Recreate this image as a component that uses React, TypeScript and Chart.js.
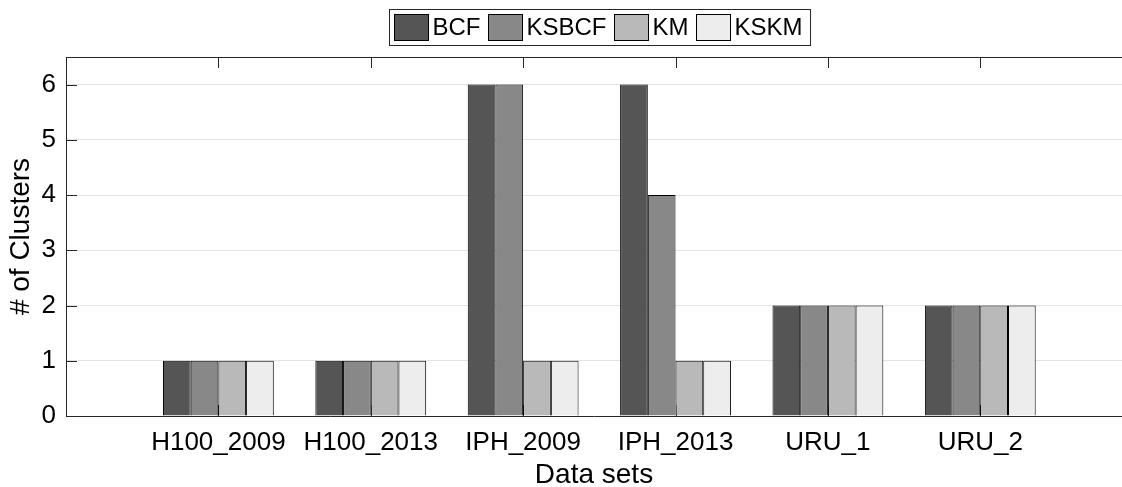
import React, { useEffect, useRef } from 'react';
import { Chart, registerables } from 'chart.js';

Chart.register(...registerables);

const categories = ['H100_2009', 'H100_2013', 'IPH_2009', 'IPH_2013', 'URU_1', 'URU_2'];
const seriesNames = ['BCF', 'KSBCF', 'KM', 'KSKM'];
const bcfValues = [1, 1, 6, 6, 2, 2];
const ksbcfValues = [1, 1, 6, 4, 2, 2];
const kmValues = [1, 1, 1, 1, 2, 2];
const kskmValues = [1, 1, 1, 1, 2, 2];
const seriesColors = ['#555555', '#888888', '#b9b9b9', '#ededed'];
const yTickValues = [0, 1, 2, 3, 4, 5, 6];
const yMax = 6.5;
const xMin = 0;
const xMax = 6.93; // visible part of the 0..7 x-range (figure is cropped at the right)
const xTitle = 'Data sets';
const yTitle = '# of Clusters';

const FONT = "'Liberation Sans', Arial, Helvetica, sans-serif";
const AXIS = '#262626';

const matlabPlugin = {
  id: 'matlabAxes',
  beforeDatasetsDraw(chart: any) {
    const { ctx, chartArea, scales } = chart;
    const x = scales.x;
    ctx.save();
    ctx.strokeStyle = AXIS;
    ctx.lineWidth = 1;
    for (let i = 1; i <= categories.length; i++) {
      const px = Math.round(x.getPixelForValue(i)) + 0.5;
      ctx.beginPath();
      ctx.moveTo(px, chartArea.bottom);
      ctx.lineTo(px, chartArea.bottom - 11);
      ctx.stroke();
    }
    ctx.restore();
  },
  afterDraw(chart: any) {
    const { ctx, chartArea, scales } = chart;
    const x = scales.x;
    const y = scales.y;
    ctx.save();
    ctx.strokeStyle = AXIS;
    ctx.lineWidth = 1;
    const top = Math.round(chartArea.top) + 0.5;
    ctx.beginPath();
    ctx.moveTo(chartArea.left, top);
    ctx.lineTo(chartArea.right, top);
    ctx.stroke();
    for (const v of yTickValues) {
      const py = Math.round(y.getPixelForValue(v)) + 0.5;
      ctx.beginPath();
      ctx.moveTo(chartArea.left, py);
      ctx.lineTo(chartArea.left + 11, py);
      ctx.stroke();
    }
    for (let i = 1; i <= categories.length; i++) {
      const px = Math.round(x.getPixelForValue(i)) + 0.5;
      ctx.beginPath();
      ctx.moveTo(px, chartArea.top);
      ctx.lineTo(px, chartArea.top + 11);
      ctx.stroke();
    }
    // legend
    ctx.font = `24px ${FONT}`;
    ctx.textBaseline = 'middle';
    ctx.textAlign = 'left';
    const swW = 34;
    const swH = 26;
    const textGap = 4;
    const itemGap = 8;
    const padL = 5;
    const padR = 8;
    const widths = seriesNames.map((n) => ctx.measureText(n).width);
    let total = padL + padR;
    widths.forEach((w, i) => {
      total += swW + textGap + w + (i < widths.length - 1 ? itemGap : 0);
    });
    const cx = x.getPixelForValue(3.5);
    const boxL = Math.round(cx - total / 2) + 0.5;
    const boxT = 9.5;
    const boxH = 36;
    ctx.fillStyle = '#ffffff';
    ctx.fillRect(boxL, boxT, total, boxH);
    ctx.strokeStyle = AXIS;
    ctx.strokeRect(boxL, boxT, total, boxH);
    let xx = boxL + padL;
    const midY = boxT + boxH / 2;
    seriesNames.forEach((n, i) => {
      ctx.fillStyle = seriesColors[i];
      ctx.fillRect(xx, midY - swH / 2, swW, swH);
      ctx.strokeStyle = '#000000';
      ctx.strokeRect(xx, midY - swH / 2, swW, swH);
      xx += swW + textGap;
      ctx.fillStyle = '#000000';
      ctx.fillText(n, xx, midY + 1);
      xx += widths[i] + itemGap;
    });
    ctx.restore();
  },
};

export default function App() {
  const canvasRef = useRef<HTMLCanvasElement | null>(null);

  useEffect(() => {
    if (!canvasRef.current) return;
    const allValues = [bcfValues, ksbcfValues, kmValues, kskmValues];
    const chart = new Chart(canvasRef.current, {
      type: 'bar',
      data: {
        datasets: seriesNames.map((name, i) => ({
          label: name,
          data: allValues[i].map((v, j) => ({ x: j + 1, y: v })) as any,
          backgroundColor: seriesColors[i],
          borderColor: '#000000',
          borderWidth: 1,
          categoryPercentage: 4 / 5.5,
          barPercentage: 1,
        })),
      },
      options: {
        animation: false,
        responsive: true,
        maintainAspectRatio: false,
        layout: { padding: { top: 57, left: 0, right: 0, bottom: 0 } },
        plugins: {
          legend: { display: false },
          tooltip: { enabled: false },
        },
        scales: {
          x: {
            type: 'linear',
            min: xMin,
            max: xMax,
            offset: false,
            afterBuildTicks: (s: any) => {
              s.ticks = categories.map((_, j) => ({ value: j + 1 }));
            },
            grid: { display: false },
            border: { display: true, color: AXIS, width: 1 },
            ticks: {
              autoSkip: false,
              maxRotation: 0,
              minRotation: 0,
              color: '#000000',
              padding: 3,
              font: { family: FONT, size: 26 },
              callback: (v: any) => categories[Math.round(Number(v)) - 1] ?? '',
            },
            title: {
              display: true,
              text: xTitle,
              color: '#000000',
              font: { family: FONT, size: 28 },
              padding: { top: 0, bottom: -5 },
            },
            afterFit: (s: any) => {
              s.height = 71;
            },
          },
          y: {
            min: 0,
            max: yMax,
            afterBuildTicks: (s: any) => {
              s.ticks = yTickValues.map((v) => ({ value: v }));
            },
            grid: {
              drawTicks: false,
              color: (c: any) => (c.tick && c.tick.value === 0 ? 'rgba(0,0,0,0)' : '#e3e3e3'),
              lineWidth: 1,
            },
            border: { display: true, color: AXIS, width: 1 },
            ticks: {
              color: '#000000',
              padding: 10,
              font: { family: FONT, size: 26 },
            },
            title: {
              display: true,
              text: yTitle,
              color: '#000000',
              font: { family: FONT, size: 28 },
              padding: { top: 4, bottom: 0 },
            },
            afterFit: (s: any) => {
              s.width = 66;
            },
          },
        },
      },
      plugins: [matlabPlugin],
    });
    return () => chart.destroy();
  }, []);

  return (
    <div style={{ position: 'absolute', left: 0, top: 0, width: 1122, height: 487, overflow: 'hidden', background: '#ffffff' }}>
      <canvas ref={canvasRef} />
    </div>
  );
}
